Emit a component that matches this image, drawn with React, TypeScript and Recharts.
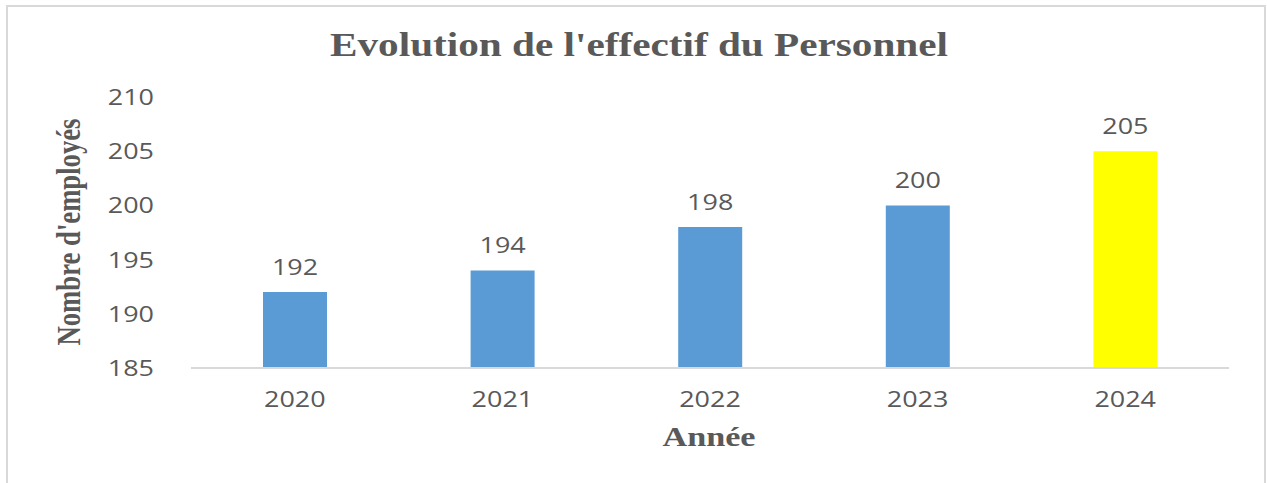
import React from "react";
import { BarChart, Bar, XAxis, YAxis, Cell, LabelList } from "recharts";

const years = ["2020", "2021", "2022", "2023", "2024"];
const employees = [192, 194, 198, 200, 205];
const barColors = ["#5B9BD5", "#5B9BD5", "#5B9BD5", "#5B9BD5", "#FFFF00"];
const yTicks = [185, 190, 195, 200, 205, 210];
const title = "Evolution de l'effectif du Personnel";
const yTitle = "Nombre d'employés";
const xTitle = "Année";

const data = years.map((y, i) => ({ year: y, value: employees[i] }));

const TEXT = "#595959";
const NUM_FONT = "'Open Sans', 'Liberation Sans', sans-serif";
const SERIF = "'Liberation Serif', 'Times New Roman', serif";
const DIGIT_W = 15.4;

const YTick = (props: any) => {
  const { x, y, payload } = props;
  const s = String(payload.value);
  return (
    <text x={x} y={y} textAnchor="end" dominantBaseline="central" fill={TEXT}
      fontFamily={NUM_FONT} fontSize={21} textLength={s.length * DIGIT_W} lengthAdjust="spacingAndGlyphs">
      {s}
    </text>
  );
};

const XTick = (props: any) => {
  const { x, y, payload } = props;
  const s = String(payload.value);
  return (
    <text x={x} y={y} textAnchor="middle" dominantBaseline="central" fill={TEXT}
      fontFamily={NUM_FONT} fontSize={21} textLength={s.length * DIGIT_W} lengthAdjust="spacingAndGlyphs">
      {s}
    </text>
  );
};

const BarLabel = (props: any) => {
  const { x, y, width, value } = props;
  const s = String(value);
  return (
    <text x={Number(x) + Number(width) / 2} y={Number(y) - 25} textAnchor="middle" dominantBaseline="central"
      fill={TEXT} fontFamily={NUM_FONT} fontSize={21} textLength={s.length * DIGIT_W} lengthAdjust="spacingAndGlyphs">
      {s}
    </text>
  );
};

export default function App() {
  return (
    <div style={{ position: "absolute", left: 0, top: 0, width: 1267, height: 483, background: "#fff", overflow: "hidden" }}>
      <div style={{ position: "absolute", left: 6, top: 5, width: 1260, height: 520, border: "2px solid #d9d9d9", boxSizing: "border-box" }} />
      <div style={{ position: "absolute", left: 0, top: 0 }}>
        <BarChart width={1267} height={483} data={data} margin={{ top: 97, right: 38, bottom: 55, left: 0 }}>
          <XAxis dataKey="year" height={60} tickSize={0} tickMargin={31} tick={<XTick />}
            axisLine={{ stroke: "#d9d9d9", strokeWidth: 2 }} tickLine={false} interval={0} />
          <YAxis type="number" domain={[185, 210]} ticks={yTicks} width={191} tickSize={0} tickMargin={37}
            tick={<YTick />} axisLine={false} tickLine={false} allowDataOverflow />
          <Bar dataKey="value" barSize={64} isAnimationActive={false}>
            {data.map((d, i) => (
              <Cell key={d.year} fill={barColors[i]} />
            ))}
            <LabelList dataKey="value" content={<BarLabel />} />
          </Bar>
        </BarChart>
      </div>
      <svg width={1267} height={483} style={{ position: "absolute", left: 0, top: 0, pointerEvents: "none" }}>
        <text x={639} y={56} textAnchor="middle" fill={TEXT} fontFamily={SERIF} fontWeight="bold" fontSize={33}
          textLength={618} lengthAdjust="spacingAndGlyphs">
          {title}
        </text>
        <text x={709} y={446} textAnchor="middle" fill={TEXT} fontFamily={SERIF} fontWeight="bold" fontSize={27}
          textLength={93} lengthAdjust="spacingAndGlyphs">
          {xTitle}
        </text>
        <g transform="translate(80,232) scale(1.27,1) rotate(-90)">
          <text x={0} y={0} textAnchor="middle" fill={TEXT} fontFamily={SERIF} fontWeight="bold" fontSize={26}
            textLength={227} lengthAdjust="spacingAndGlyphs">
            {yTitle}
          </text>
        </g>
      </svg>
    </div>
  );
}
